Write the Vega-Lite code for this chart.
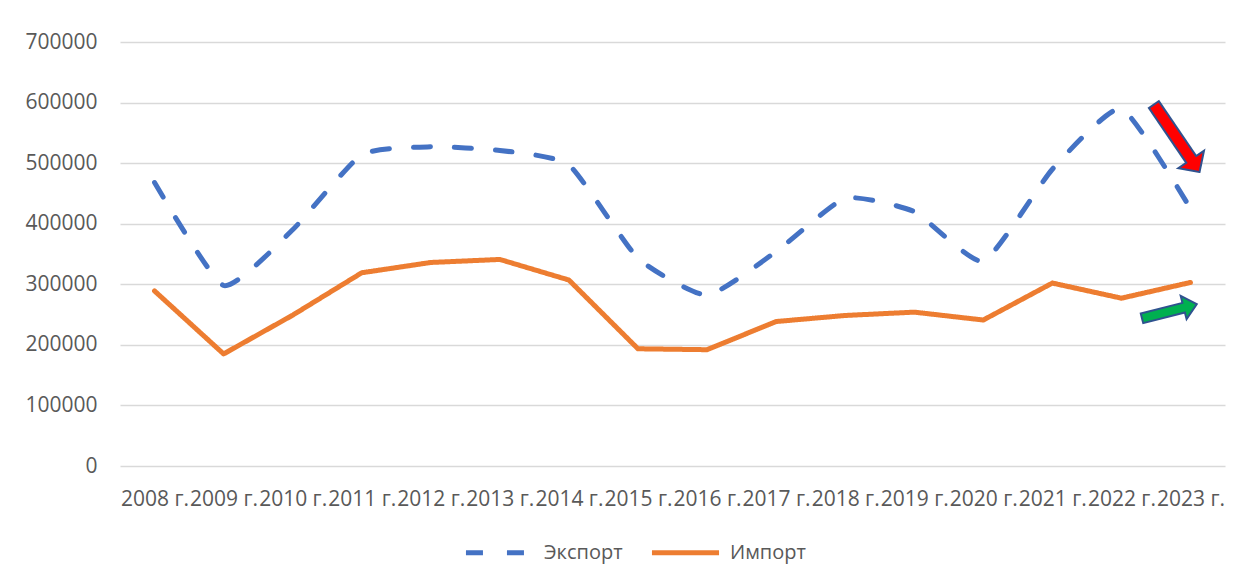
{
  "$schema": "https://vega.github.io/schema/vega-lite/v6.json",
  "width": 1105,
  "height": 424,
  "autosize": {"type": "none"},
  "padding": {"left": 120, "top": 42, "right": 18, "bottom": 114},
  "background": "white",
  "config": {
    "view": {"stroke": null},
    "font": "Open Sans",
    "axisY": {
      "grid": true, "gridColor": "#D9D9D9", "gridWidth": 1.5,
      "domain": false, "ticks": false, "labelPadding": 23,
      "labelFontSize": 21, "labelColor": "#595959", "labelFont": "Open Sans"
    },
    "axisX": {
      "grid": false, "domain": false, "ticks": false, "labelPadding": 22,
      "labelAngle": 0, "labelFontSize": 21, "labelColor": "#595959",
      "labelFont": "Open Sans", "labelOverlap": false
    }
  },
  "datasets": {
    "trade": [
      {"year": "2008 г.", "series": "Экспорт", "value": 468000},
      {"year": "2009 г.", "series": "Экспорт", "value": 298000},
      {"year": "2010 г.", "series": "Экспорт", "value": 390000},
      {"year": "2011 г.", "series": "Экспорт", "value": 514000},
      {"year": "2012 г.", "series": "Экспорт", "value": 527000},
      {"year": "2013 г.", "series": "Экспорт", "value": 521000},
      {"year": "2014 г.", "series": "Экспорт", "value": 497000},
      {"year": "2015 г.", "series": "Экспорт", "value": 343000},
      {"year": "2016 г.", "series": "Экспорт", "value": 282000},
      {"year": "2017 г.", "series": "Экспорт", "value": 354000},
      {"year": "2018 г.", "series": "Экспорт", "value": 442000},
      {"year": "2019 г.", "series": "Экспорт", "value": 420000},
      {"year": "2020 г.", "series": "Экспорт", "value": 338000},
      {"year": "2021 г.", "series": "Экспорт", "value": 490000},
      {"year": "2022 г.", "series": "Экспорт", "value": 590000},
      {"year": "2023 г.", "series": "Экспорт", "value": 425000},
      {"year": "2008 г.", "series": "Импорт", "value": 289000},
      {"year": "2009 г.", "series": "Импорт", "value": 185000},
      {"year": "2010 г.", "series": "Импорт", "value": 249000},
      {"year": "2011 г.", "series": "Импорт", "value": 319000},
      {"year": "2012 г.", "series": "Импорт", "value": 336000},
      {"year": "2013 г.", "series": "Импорт", "value": 341000},
      {"year": "2014 г.", "series": "Импорт", "value": 307000},
      {"year": "2015 г.", "series": "Импорт", "value": 193500},
      {"year": "2016 г.", "series": "Импорт", "value": 192000},
      {"year": "2017 г.", "series": "Импорт", "value": 238500},
      {"year": "2018 г.", "series": "Импорт", "value": 248500},
      {"year": "2019 г.", "series": "Импорт", "value": 254000},
      {"year": "2020 г.", "series": "Импорт", "value": 241000},
      {"year": "2021 г.", "series": "Импорт", "value": 302000},
      {"year": "2022 г.", "series": "Импорт", "value": 277000},
      {"year": "2023 г.", "series": "Импорт", "value": 303000}
    ],
    "shafts": [
      {"arrow": "down", "part": "outer", "x0": 14.962, "y0": 598100, "x1": 15.511, "y1": 506000},
      {"arrow": "down", "part": "inner", "x0": 14.978, "y0": 595300, "x1": 15.537, "y1": 501900},
      {"arrow": "up", "part": "outer", "x0": 14.784, "y0": 243500, "x1": 15.402, "y1": 261300},
      {"arrow": "up", "part": "inner", "x0": 14.811, "y0": 244300, "x1": 15.429, "y1": 262200}
    ],
    "heads": [
      {"arrow": "down", "x": 15.571, "y": 495800},
      {"arrow": "up", "x": 15.496, "y": 264400}
    ]
  },
  "layer": [
    {
      "data": {"name": "trade"},
      "layer": [
        {
          "transform": [{"filter": "datum.series === 'Экспорт'"}],
          "mark": {"type": "line", "strokeWidth": 5, "strokeCap": "round", "strokeJoin": "round", "interpolate": "cardinal", "tension": 0.5},
          "encoding": {
            "x": {"field": "year", "type": "ordinal", "axis": {"title": null}},
            "y": {"field": "value", "type": "quantitative", "scale": {"domain": [0, 700000], "nice": false}, "axis": {"title": null, "values": [0, 100000, 200000, 300000, 400000, 500000, 600000, 700000], "format": "d"}},
            "color": {"field": "series", "type": "nominal", "scale": {"domain": ["Экспорт", "Импорт"], "range": ["#4472C4", "#ED7D31"]}, "legend": {"title": null, "orient": "none", "legendX": 343, "legendY": 474, "direction": "horizontal", "symbolType": "stroke", "symbolSize": 4500, "symbolStrokeWidth": 5, "labelFontSize": 20, "labelColor": "#595959", "labelFont": "Open Sans", "labelOffset": 8, "columnPadding": 18, "padding": 0}},
            "strokeDash": {"field": "series", "type": "nominal", "scale": {"domain": ["Экспорт", "Импорт"], "range": [[17, 24], [1, 0]]}, "legend": {"title": null, "orient": "none", "legendX": 343, "legendY": 474, "direction": "horizontal", "symbolType": "stroke", "symbolSize": 4500, "symbolStrokeWidth": 5, "labelFontSize": 20, "labelColor": "#595959", "labelFont": "Open Sans", "labelOffset": 8, "columnPadding": 18, "padding": 0}}
          }
        },
        {
          "transform": [{"filter": "datum.series === 'Импорт'"}],
          "mark": {"type": "line", "strokeWidth": 5, "strokeCap": "round", "strokeJoin": "round"},
          "encoding": {
            "x": {"field": "year", "type": "ordinal", "axis": {"title": null}},
            "y": {"field": "value", "type": "quantitative", "scale": {"domain": [0, 700000], "nice": false}, "axis": {"title": null, "values": [0, 100000, 200000, 300000, 400000, 500000, 600000, 700000], "format": "d"}},
            "color": {"field": "series", "type": "nominal"},
            "strokeDash": {"field": "series", "type": "nominal"}
          }
        }
      ]
    },
    {
      "layer": [
        {
          "data": {"name": "shafts"},
          "transform": [{"filter": "datum.arrow === 'down' && datum.part === 'outer'"}],
          "mark": {"type": "rule", "color": "#2F528F", "strokeWidth": 14, "strokeCap": "butt"},
          "encoding": {
            "x": {"field": "x0", "type": "quantitative", "scale": {"domain": [0, 16], "nice": false, "zero": false}, "axis": null},
            "x2": {"field": "x1"},
            "y": {"field": "y0", "type": "quantitative", "scale": {"domain": [0, 700000], "nice": false}, "axis": {"title": null}},
            "y2": {"field": "y1"}
          }
        },
        {
          "data": {"name": "shafts"},
          "transform": [{"filter": "datum.arrow === 'up' && datum.part === 'outer'"}],
          "mark": {"type": "rule", "color": "#2F528F", "strokeWidth": 12, "strokeCap": "butt"},
          "encoding": {
            "x": {"field": "x0", "type": "quantitative", "scale": {"domain": [0, 16], "nice": false, "zero": false}, "axis": null},
            "x2": {"field": "x1"},
            "y": {"field": "y0", "type": "quantitative", "axis": {"title": null}},
            "y2": {"field": "y1"}
          }
        },
        {
          "data": {"name": "heads"},
          "transform": [{"filter": "datum.arrow === 'down'"}],
          "mark": {"type": "point", "shape": "M0,-0.484L1,0.484L-1,0.484Z", "size": 961, "angle": 145.9, "filled": true, "fill": "#FF0000", "stroke": "#2F528F", "strokeWidth": 2, "opacity": 1},
          "encoding": {
            "x": {"field": "x", "type": "quantitative", "axis": null},
            "y": {"field": "y", "type": "quantitative", "axis": {"title": null}}
          }
        },
        {
          "data": {"name": "heads"},
          "transform": [{"filter": "datum.arrow === 'up'"}],
          "mark": {"type": "point", "shape": "M0,-0.5625L1,0.5625L-1,0.5625Z", "size": 576, "angle": 75.8, "filled": true, "fill": "#00B050", "stroke": "#2F528F", "strokeWidth": 2, "opacity": 1},
          "encoding": {
            "x": {"field": "x", "type": "quantitative", "axis": null},
            "y": {"field": "y", "type": "quantitative", "axis": {"title": null}}
          }
        },
        {
          "data": {"name": "shafts"},
          "transform": [{"filter": "datum.arrow === 'down' && datum.part === 'inner'"}],
          "mark": {"type": "rule", "color": "#FF0000", "strokeWidth": 10, "strokeCap": "butt"},
          "encoding": {
            "x": {"field": "x0", "type": "quantitative", "axis": null},
            "x2": {"field": "x1"},
            "y": {"field": "y0", "type": "quantitative", "axis": {"title": null}},
            "y2": {"field": "y1"}
          }
        },
        {
          "data": {"name": "shafts"},
          "transform": [{"filter": "datum.arrow === 'up' && datum.part === 'inner'"}],
          "mark": {"type": "rule", "color": "#00B050", "strokeWidth": 8, "strokeCap": "butt"},
          "encoding": {
            "x": {"field": "x0", "type": "quantitative", "axis": null},
            "x2": {"field": "x1"},
            "y": {"field": "y0", "type": "quantitative", "axis": {"title": null}},
            "y2": {"field": "y1"}
          }
        }
      ]
    }
  ],
  "resolve": {"scale": {"x": "independent"}, "axis": {"x": "independent"}}
}
